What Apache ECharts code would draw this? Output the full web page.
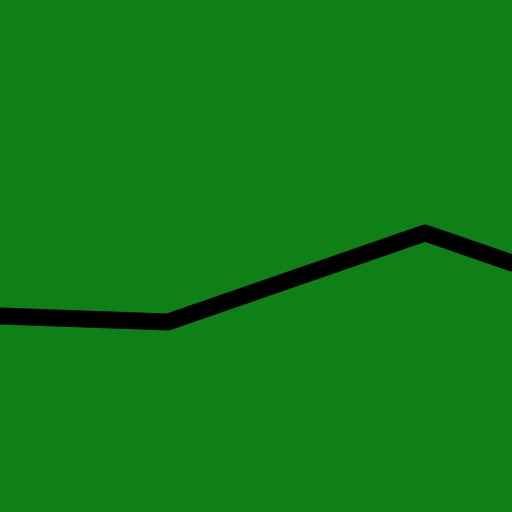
<!DOCTYPE html>
<html>
<head>
<meta charset="utf-8">
<script src="https://cdn.jsdelivr.net/npm/echarts@6/dist/echarts.min.js"></script>
<style>
  html, body { margin: 0; padding: 0; background: #0f8016; }
  #chart { width: 512px; height: 512px; }
</style>
</head>
<body>
<div id="chart"></div>
<script>
// data
const xValues = [0, 168, 425, 512];
const yValues = [196, 190, 279, 249];

const chart = echarts.init(document.getElementById("chart"));
const option = {
    backgroundColor: "#0f8016",
    animation: false,
    grid: { left: 0, right: 0, top: 0, bottom: 0 },
    xAxis: { type: "value", min: 0, max: 512, show: false },
    yAxis: { type: "value", min: 0, max: 512, show: false },
    series: [{
        type: "line",
        data: xValues.map((x, i) => [x, yValues[i]]),
        symbol: "none",
        lineStyle: { color: "#000", width: 17, cap: "round", join: "round" }
    }]
};
chart.setOption(option);
</script>
</body>
</html>
